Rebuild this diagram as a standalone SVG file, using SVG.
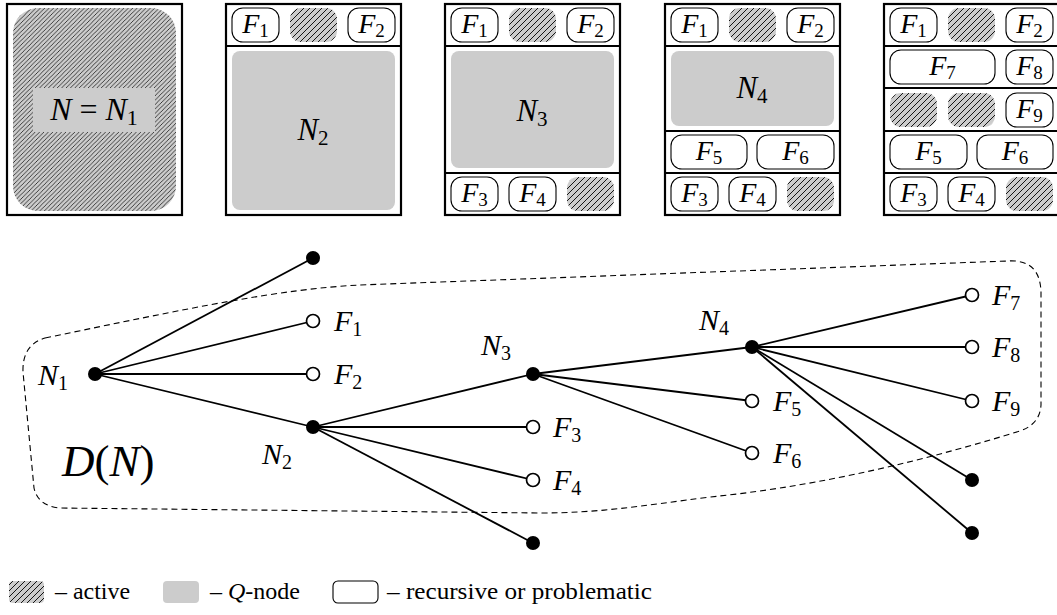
<svg xmlns="http://www.w3.org/2000/svg" width="1057" height="615" viewBox="0 0 1057 615">
<defs>
<pattern id="hatch" patternUnits="userSpaceOnUse" width="6" height="6">
<rect width="6" height="6" fill="#cccccc"/>
<path d="M-1,1 L1,-1 M0,6 L6,0 M5,7 L7,5" stroke="#000" stroke-width="0.9"/>
</pattern>
<pattern id="hatchL" patternUnits="userSpaceOnUse" width="4.4" height="4.4">
<rect width="4.4" height="4.4" fill="#cccccc"/>
<path d="M-1,1 L1,-1 M0,4.4 L4.4,0 M3.4,5.4 L5.4,3.4" stroke="#000" stroke-width="0.7"/>
</pattern>
</defs>
<style>
.frame{fill:#fff;stroke:#000;stroke-width:2.2}
.sep{stroke:#000;stroke-width:2.2}
.ov{fill:#fff;stroke:#000;stroke-width:1.1}
.act{fill:url(#hatch);stroke:none}
.q{fill:#cccccc;stroke:none}
.m{font-family:"Liberation Serif","DejaVu Serif",serif;font-style:italic;fill:#000}
.r{font-family:"Liberation Serif","DejaVu Serif",serif;font-style:normal;fill:#000}
.pf{font-size:28px}
.tl{font-size:30px}
.edge{stroke:#000;stroke-width:1.8;fill:none}
.dash{stroke:#000;stroke-width:1.1;fill:none;stroke-dasharray:6 4}
.full{fill:#000}
.open{fill:#fff;stroke:#000;stroke-width:1.7}
</style>

<!-- Panel 1 -->
<g id="panel1">
<rect class="frame" x="7" y="4" width="175" height="211"/>
<rect x="13" y="8" width="163" height="203" rx="25" fill="url(#hatchL)"/>
<rect class="q" x="33" y="88" width="122" height="44"/>
<text class="m" x="94" y="120" font-size="32" text-anchor="middle">N<tspan class="r"> = </tspan>N<tspan class="r" font-size="22" dy="5">1</tspan></text>
</g>

<!-- Panel 2 -->
<g id="panel2">
<rect class="frame" x="226" y="4" width="175" height="211"/>
<line class="sep" x1="226" y1="46" x2="401" y2="46"/>
<rect class="ov" x="232" y="8" width="47" height="34" rx="11"/>
<text class="m pf" x="255.5" y="33" text-anchor="middle">F<tspan class="r" font-size="19" dy="4">1</tspan></text>
<rect class="act" x="290" y="8" width="47" height="34" rx="11"/>
<rect class="ov" x="348" y="8" width="47" height="34" rx="11"/>
<text class="m pf" x="371.5" y="33" text-anchor="middle">F<tspan class="r" font-size="19" dy="4">2</tspan></text>
<rect class="q" x="232" y="51" width="163" height="159" rx="8"/>
<text class="m" x="313" y="140" font-size="31" text-anchor="middle">N<tspan class="r" font-size="21" dy="5">2</tspan></text>
</g>

<!-- Panel 3 -->
<g id="panel3">
<rect class="frame" x="445" y="4" width="175" height="211"/>
<line class="sep" x1="445" y1="46" x2="620" y2="46"/>
<line class="sep" x1="445" y1="173" x2="620" y2="173"/>
<rect class="ov" x="451" y="8" width="47" height="34" rx="11"/>
<text class="m pf" x="474.5" y="33" text-anchor="middle">F<tspan class="r" font-size="19" dy="4">1</tspan></text>
<rect class="act" x="509" y="8" width="47" height="34" rx="11"/>
<rect class="ov" x="567" y="8" width="47" height="34" rx="11"/>
<text class="m pf" x="590.5" y="33" text-anchor="middle">F<tspan class="r" font-size="19" dy="4">2</tspan></text>
<rect class="q" x="451" y="51" width="163" height="117" rx="8"/>
<text class="m" x="532" y="121" font-size="31" text-anchor="middle">N<tspan class="r" font-size="21" dy="5">3</tspan></text>
<rect class="ov" x="451" y="177" width="47" height="34" rx="11"/>
<text class="m pf" x="474.5" y="202" text-anchor="middle">F<tspan class="r" font-size="19" dy="4">3</tspan></text>
<rect class="ov" x="509" y="177" width="47" height="34" rx="11"/>
<text class="m pf" x="532.5" y="202" text-anchor="middle">F<tspan class="r" font-size="19" dy="4">4</tspan></text>
<rect class="act" x="567" y="177" width="47" height="34" rx="11"/>
</g>

<!-- Panel 4 -->
<g id="panel4">
<rect class="frame" x="665" y="4" width="175" height="211"/>
<line class="sep" x1="665" y1="46" x2="840" y2="46"/>
<line class="sep" x1="665" y1="131" x2="840" y2="131"/>
<line class="sep" x1="665" y1="173" x2="840" y2="173"/>
<rect class="ov" x="671" y="8" width="47" height="34" rx="11"/>
<text class="m pf" x="694.5" y="33" text-anchor="middle">F<tspan class="r" font-size="19" dy="4">1</tspan></text>
<rect class="act" x="729" y="8" width="47" height="34" rx="11"/>
<rect class="ov" x="787" y="8" width="47" height="34" rx="11"/>
<text class="m pf" x="810.5" y="33" text-anchor="middle">F<tspan class="r" font-size="19" dy="4">2</tspan></text>
<rect class="q" x="671" y="51" width="163" height="75" rx="8"/>
<text class="m" x="752" y="98" font-size="31" text-anchor="middle">N<tspan class="r" font-size="21" dy="5">4</tspan></text>
<rect class="ov" x="671" y="135" width="76" height="34" rx="11"/>
<text class="m pf" x="709" y="160" text-anchor="middle">F<tspan class="r" font-size="19" dy="4">5</tspan></text>
<rect class="ov" x="757" y="135" width="77" height="34" rx="11"/>
<text class="m pf" x="795.5" y="160" text-anchor="middle">F<tspan class="r" font-size="19" dy="4">6</tspan></text>
<rect class="ov" x="671" y="177" width="47" height="34" rx="11"/>
<text class="m pf" x="694.5" y="202" text-anchor="middle">F<tspan class="r" font-size="19" dy="4">3</tspan></text>
<rect class="ov" x="729" y="177" width="47" height="34" rx="11"/>
<text class="m pf" x="752.5" y="202" text-anchor="middle">F<tspan class="r" font-size="19" dy="4">4</tspan></text>
<rect class="act" x="787" y="177" width="47" height="34" rx="11"/>
</g>

<!-- Panel 5 -->
<g id="panel5">
<rect class="frame" x="884" y="4" width="175" height="211"/>
<line class="sep" x1="884" y1="46" x2="1059" y2="46"/>
<line class="sep" x1="884" y1="88" x2="1059" y2="88"/>
<line class="sep" x1="884" y1="131" x2="1059" y2="131"/>
<line class="sep" x1="884" y1="173" x2="1059" y2="173"/>
<rect class="ov" x="890" y="8" width="47" height="34" rx="11"/>
<text class="m pf" x="913.5" y="33" text-anchor="middle">F<tspan class="r" font-size="19" dy="4">1</tspan></text>
<rect class="act" x="948" y="8" width="47" height="34" rx="11"/>
<rect class="ov" x="1006" y="8" width="47" height="34" rx="11"/>
<text class="m pf" x="1029.5" y="33" text-anchor="middle">F<tspan class="r" font-size="19" dy="4">2</tspan></text>
<rect class="ov" x="890" y="50" width="105" height="34" rx="11"/>
<text class="m pf" x="942.5" y="75" text-anchor="middle">F<tspan class="r" font-size="19" dy="4">7</tspan></text>
<rect class="ov" x="1006" y="50" width="47" height="34" rx="11"/>
<text class="m pf" x="1029.5" y="75" text-anchor="middle">F<tspan class="r" font-size="19" dy="4">8</tspan></text>
<rect class="act" x="890" y="93" width="47" height="34" rx="11"/>
<rect class="act" x="948" y="93" width="47" height="34" rx="11"/>
<rect class="ov" x="1006" y="93" width="47" height="34" rx="11"/>
<text class="m pf" x="1029.5" y="118" text-anchor="middle">F<tspan class="r" font-size="19" dy="4">9</tspan></text>
<rect class="ov" x="890" y="135" width="77" height="34" rx="11"/>
<text class="m pf" x="928.5" y="160" text-anchor="middle">F<tspan class="r" font-size="19" dy="4">5</tspan></text>
<rect class="ov" x="977" y="135" width="76" height="34" rx="11"/>
<text class="m pf" x="1015" y="160" text-anchor="middle">F<tspan class="r" font-size="19" dy="4">6</tspan></text>
<rect class="ov" x="890" y="177" width="47" height="34" rx="11"/>
<text class="m pf" x="913.5" y="202" text-anchor="middle">F<tspan class="r" font-size="19" dy="4">3</tspan></text>
<rect class="ov" x="948" y="177" width="47" height="34" rx="11"/>
<text class="m pf" x="971.5" y="202" text-anchor="middle">F<tspan class="r" font-size="19" dy="4">4</tspan></text>
<rect class="act" x="1006" y="177" width="47" height="34" rx="11"/>
</g>

<!-- D(N) region -->
<g id="region">
<path class="dash" d="M45,338 C190,308 280,289 360,285 L1008,261 Q1040,259 1041,292 L1041,405 Q1040,424 1020,431 C900,468 800,488 710,497 C640,506 600,513 540,513 L60,508 Q38,506 34,488 L23,372 Q22,345 45,338 Z"/>
<text class="m" x="62" y="476" font-size="45">D<tspan class="r">(</tspan>N<tspan class="r">)</tspan></text>
</g>

<!-- Connectors -->
<g id="connectors">
<line class="edge" x1="95" y1="374" x2="313" y2="258"/>
<line class="edge" x1="95" y1="374" x2="313" y2="321"/>
<line class="edge" x1="95" y1="374" x2="313" y2="374"/>
<line class="edge" x1="95" y1="374" x2="313" y2="427"/>
<line class="edge" x1="313" y1="427" x2="533" y2="374"/>
<line class="edge" x1="313" y1="427" x2="533" y2="427"/>
<line class="edge" x1="313" y1="427" x2="533" y2="480"/>
<line class="edge" x1="313" y1="427" x2="533" y2="543"/>
<line class="edge" x1="533" y1="374" x2="752" y2="347"/>
<line class="edge" x1="533" y1="374" x2="752" y2="401"/>
<line class="edge" x1="533" y1="374" x2="752" y2="453"/>
<line class="edge" x1="752" y1="347" x2="972" y2="295"/>
<line class="edge" x1="752" y1="347" x2="972" y2="347"/>
<line class="edge" x1="752" y1="347" x2="972" y2="401"/>
<line class="edge" x1="752" y1="347" x2="972" y2="480"/>
<line class="edge" x1="752" y1="347" x2="972" y2="533"/>
</g>

<!-- Tree nodes -->
<g id="N1"><circle class="full" cx="95" cy="374" r="7"/><text class="m tl" x="38" y="385">N<tspan class="r" font-size="20" dy="5">1</tspan></text></g>
<g id="top1"><circle class="full" cx="313" cy="258" r="7"/></g>
<g id="F1"><circle class="open" cx="313" cy="321" r="6.5"/><text class="m tl" x="334" y="331">F<tspan class="r" font-size="20" dy="5">1</tspan></text></g>
<g id="F2"><circle class="open" cx="313" cy="374" r="6.5"/><text class="m tl" x="334" y="384">F<tspan class="r" font-size="20" dy="5">2</tspan></text></g>
<g id="N2"><circle class="full" cx="313" cy="427" r="7"/><text class="m tl" x="262" y="464">N<tspan class="r" font-size="20" dy="5">2</tspan></text></g>
<g id="N3"><circle class="full" cx="533" cy="374" r="7"/><text class="m tl" x="481" y="355">N<tspan class="r" font-size="20" dy="5">3</tspan></text></g>
<g id="F3"><circle class="open" cx="533" cy="427" r="6.5"/><text class="m tl" x="553" y="437">F<tspan class="r" font-size="20" dy="5">3</tspan></text></g>
<g id="F4"><circle class="open" cx="533" cy="480" r="6.5"/><text class="m tl" x="553" y="490">F<tspan class="r" font-size="20" dy="5">4</tspan></text></g>
<g id="bot2"><circle class="full" cx="533" cy="543" r="7"/></g>
<g id="N4"><circle class="full" cx="752" cy="347" r="7"/><text class="m tl" x="699" y="330">N<tspan class="r" font-size="20" dy="5">4</tspan></text></g>
<g id="F5"><circle class="open" cx="752" cy="401" r="6.5"/><text class="m tl" x="773" y="411">F<tspan class="r" font-size="20" dy="5">5</tspan></text></g>
<g id="F6"><circle class="open" cx="752" cy="453" r="6.5"/><text class="m tl" x="773" y="463">F<tspan class="r" font-size="20" dy="5">6</tspan></text></g>
<g id="F7"><circle class="open" cx="972" cy="295" r="6.5"/><text class="m tl" x="992" y="305">F<tspan class="r" font-size="20" dy="5">7</tspan></text></g>
<g id="F8"><circle class="open" cx="972" cy="347" r="6.5"/><text class="m tl" x="992" y="357">F<tspan class="r" font-size="20" dy="5">8</tspan></text></g>
<g id="F9"><circle class="open" cx="972" cy="401" r="6.5"/><text class="m tl" x="992" y="411">F<tspan class="r" font-size="20" dy="5">9</tspan></text></g>
<g id="bot4a"><circle class="full" cx="972" cy="480" r="7"/></g>
<g id="bot4b"><circle class="full" cx="972" cy="533" r="7"/></g>

<!-- Legend -->
<g id="legend">
<rect x="9" y="581" width="35" height="22" rx="4" fill="url(#hatch)"/>
<text class="r" x="55" y="599" font-size="24" textLength="75" lengthAdjust="spacingAndGlyphs">– active</text>
<rect class="q" x="163" y="581" width="36" height="22" rx="4"/>
<text class="r" x="210" y="599" font-size="24" textLength="90" lengthAdjust="spacingAndGlyphs">– <tspan class="m">Q</tspan>-node</text>
<rect class="ov" x="333" y="581" width="45" height="22" rx="5"/>
<text class="r" x="387" y="599" font-size="24" textLength="265" lengthAdjust="spacingAndGlyphs">– recursive or problematic</text>
</g>
</svg>
